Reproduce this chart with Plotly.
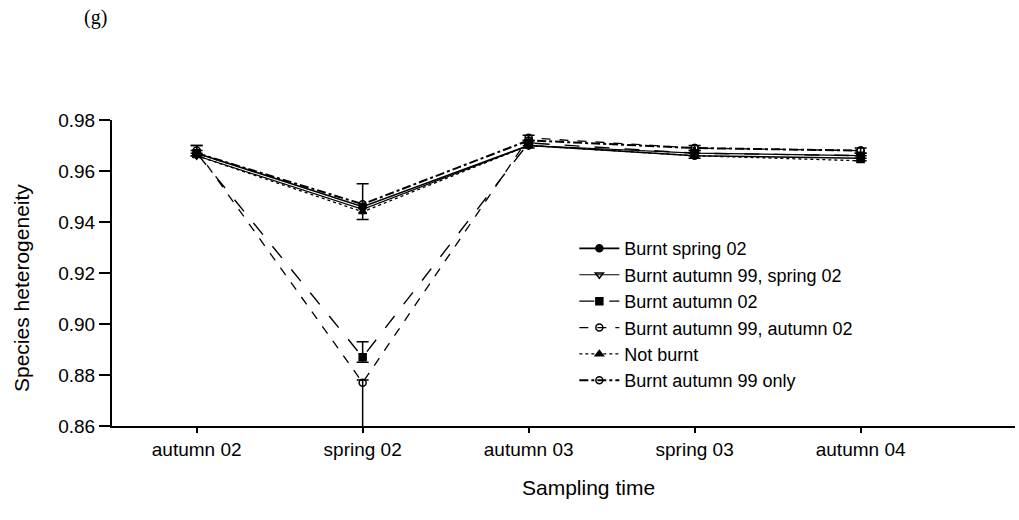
import plotly.graph_objects as go

categories = ["autumn 02", "spring 02", "autumn 03", "spring 03", "autumn 04"]

series_names = [
    "Burnt spring 02",
    "Burnt autumn 99, spring 02",
    "Burnt autumn 02",
    "Burnt autumn 99, autumn 02",
    "Not burnt",
    "Burnt autumn 99 only",
]

burnt_spring02 = [0.967, 0.946, 0.970, 0.966, 0.965]
burnt_a99_s02 = [0.966, 0.945, 0.970, 0.967, 0.966]
burnt_autumn02 = [0.967, 0.887, 0.971, 0.967, 0.966]
burnt_a99_a02 = [0.968, 0.877, 0.973, 0.969, 0.968]
not_burnt = [0.966, 0.944, 0.970, 0.966, 0.964]
burnt_a99_only = [0.967, 0.947, 0.972, 0.969, 0.968]

err_spring02_plus = [0.003, 0.009, 0.001, 0.001, 0.001]
err_spring02_minus = [0.001, 0.005, 0.001, 0.001, 0.001]
err_autumn02_plus = [0.001, 0.006, 0.001, 0.001, 0.001]
err_autumn02_minus = [0.001, 0.002, 0.001, 0.001, 0.001]
err_a99_a02_plus = [0.002, 0.001, 0.001, 0.001, 0.001]
err_a99_a02_minus = [0.001, 0.019, 0.001, 0.001, 0.001]

values = [burnt_spring02, burnt_a99_s02, burnt_autumn02, burnt_a99_a02, not_burnt, burnt_a99_only]
styles = [
    dict(dash="solid", width=1.6, symbol="circle", color="black"),
    dict(dash="solid", width=1.2, symbol="triangle-down-open", color="black"),
    dict(dash="longdash", width=1.4, symbol="square", color="black"),
    dict(dash="dash", width=1.3, symbol="circle-open", color="black"),
    dict(dash="dot", width=1.3, symbol="triangle-up", color="black"),
    dict(dash="dashdot", width=2.0, symbol="circle-open", color="black"),
]
errors = {
    0: (err_spring02_plus, err_spring02_minus),
    2: (err_autumn02_plus, err_autumn02_minus),
    3: (err_a99_a02_plus, err_a99_a02_minus),
}

FONT = "Liberation Sans"

fig = go.Figure()
for i, (name, vals, st) in enumerate(zip(series_names, values, styles)):
    ey = None
    if i in errors:
        ey = dict(type="data", array=errors[i][0], arrayminus=errors[i][1],
                  color="black", thickness=1.5, width=6, visible=True)
    fig.add_trace(go.Scatter(
        x=list(range(len(categories))), y=vals, name=name, mode="lines+markers",
        line=dict(color=st["color"], dash=st["dash"], width=st["width"]),
        marker=dict(symbol=st["symbol"], size=7, color="black",
                    line=dict(color="black", width=1.5)),
        error_y=ey, cliponaxis=False,
    ))

fig.update_layout(
    width=1019, height=520,
    margin=dict(l=112, r=4, t=120, b=94),
    plot_bgcolor="white", paper_bgcolor="white",
    font=dict(family=FONT, size=19, color="black"),
    showlegend=True,
    legend=dict(x=0.512, y=0.64, xanchor="left", yanchor="top",
                bgcolor="rgba(0,0,0,0)", font=dict(family=FONT, size=18),
                tracegroupgap=0, itemwidth=40),
    xaxis=dict(
        range=[-0.51, 4.93], tickmode="array", tickvals=list(range(len(categories))),
        ticktext=categories, showline=True, linecolor="black", linewidth=2,
        ticks="outside", ticklen=5, tickwidth=1.5, tickcolor="black",
        showgrid=False, zeroline=False, tickfont=dict(family=FONT, size=19),
    ),
    yaxis=dict(
        range=[0.86, 0.98], tickvals=[0.86, 0.88, 0.90, 0.92, 0.94, 0.96, 0.98],
        tickformat=".2f", showline=True, linecolor="black", linewidth=2,
        ticks="outside", ticklen=11, tickwidth=2, tickcolor="black",
        showgrid=False, zeroline=False, tickfont=dict(family=FONT, size=19),
    ),
    annotations=[
        dict(text="Species heterogeneity", xref="paper", yref="paper",
             x=-0.1, y=0.45, textangle=-90, showarrow=False,
             font=dict(family=FONT, size=21), xanchor="center", yanchor="middle"),
        dict(text="Sampling time", xref="paper", yref="paper",
             x=0.528, y=-0.20, showarrow=False, font=dict(family=FONT, size=21),
             xanchor="center", yanchor="middle"),
        dict(text="(g)", xref="paper", yref="paper", x=-0.018, y=1.335,
             showarrow=False, xanchor="center", yanchor="middle",
             font=dict(family="Liberation Serif", size=20)),
    ],
)

fig.write_html("out.html")
